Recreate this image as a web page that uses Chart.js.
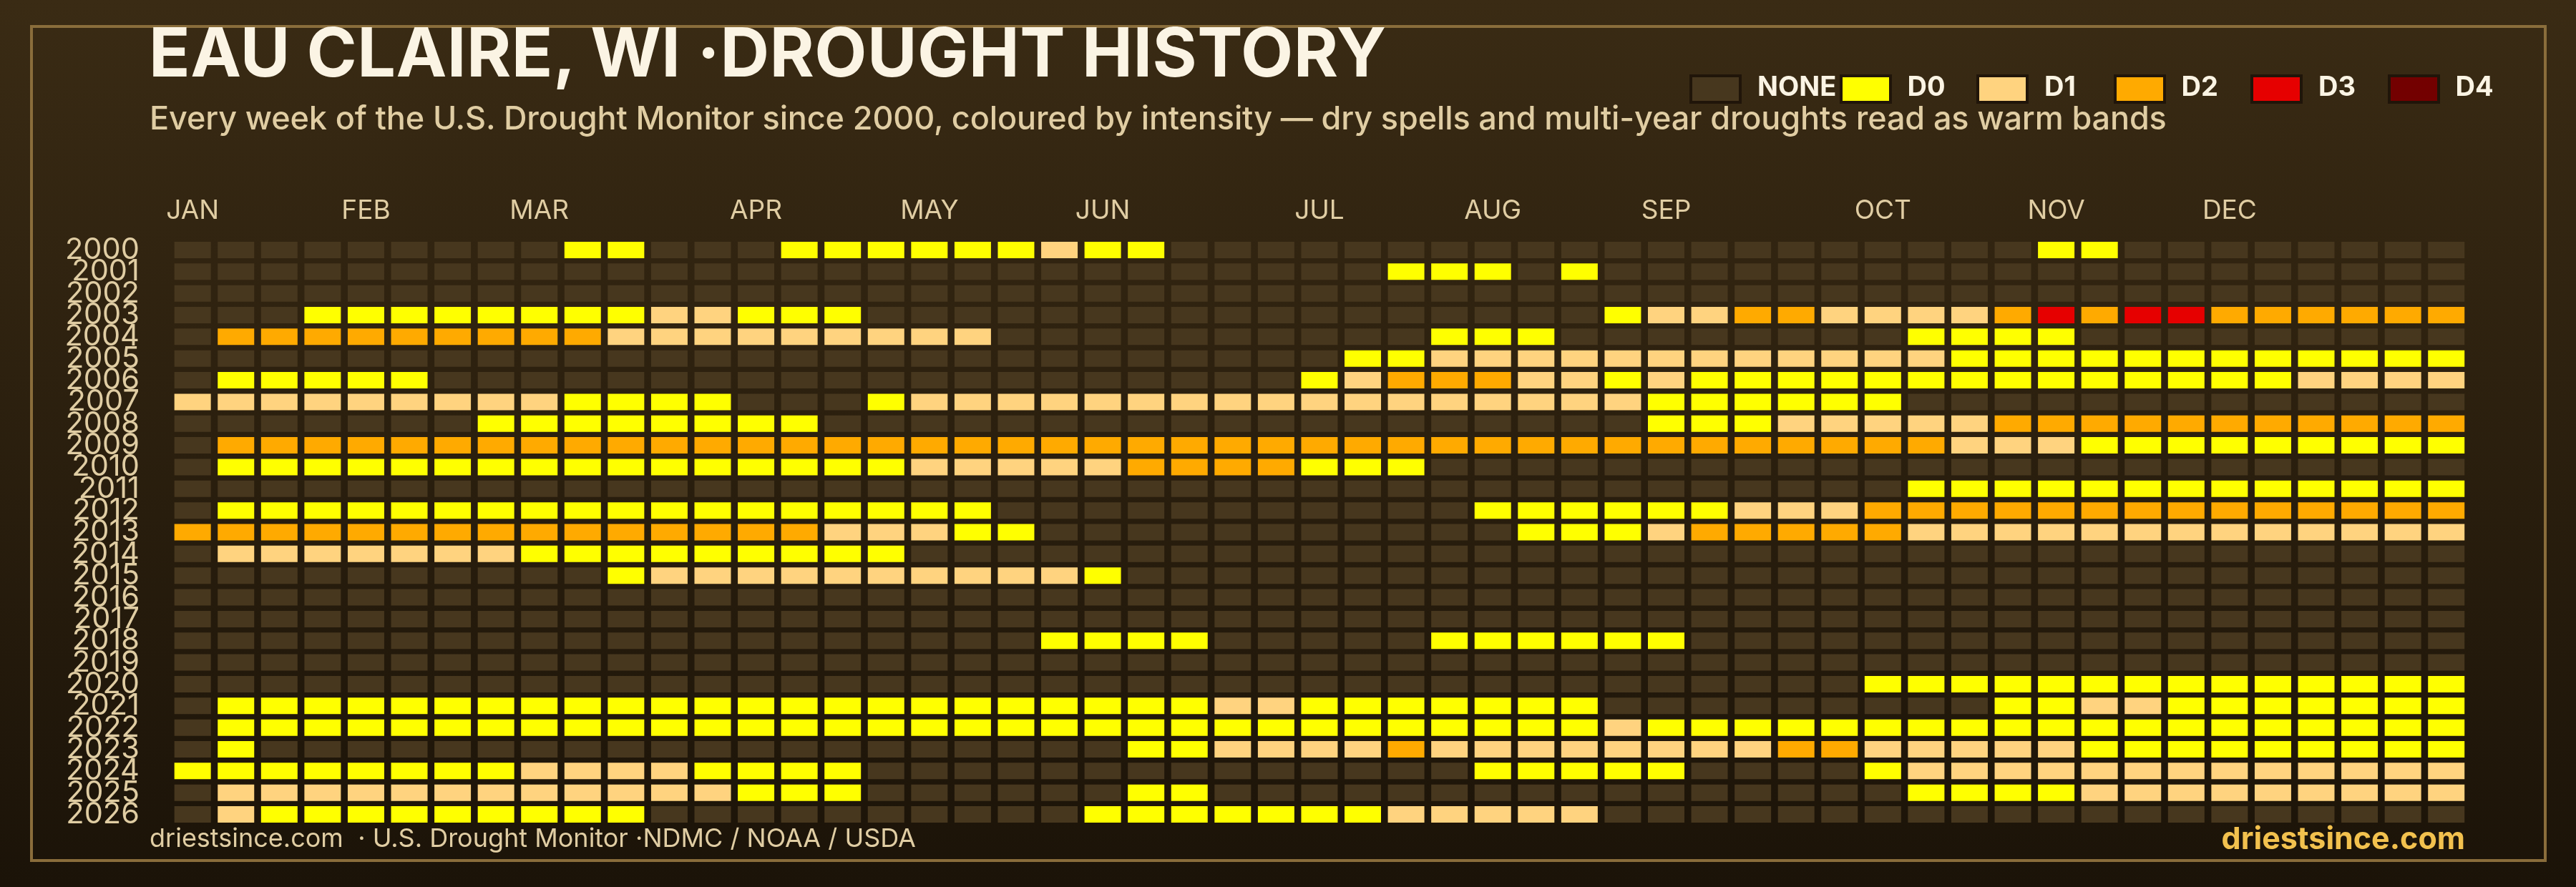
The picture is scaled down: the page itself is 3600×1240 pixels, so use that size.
<!DOCTYPE html>
<html>
<head>
<meta charset="utf-8">
<title>Eau Claire, WI drought history</title>
<script src="https://cdn.jsdelivr.net/npm/chart.js@4"></script>
<style>
    html, body { margin: 0; padding: 0; }
    body {
        width: 3600px; height: 1240px; position: relative; overflow: hidden;
        background: linear-gradient(180deg, #3a2b14 0%, #1b1308 100%);
        font-family: Inter, sans-serif;
    }
    #chart-wrap { position: absolute; left: 0; top: 0; width: 3600px; height: 1240px; }
    #frame { position: absolute; left: 42px; top: 35px; width: 3509px; height: 1162px; border: 4px solid #8a6d3b; }
    .txt { position: absolute; white-space: pre; }
    #title { left: 208px; top: 14px; font-size: 95px; line-height: 118px; font-weight: 700; color: #fbf4e4; letter-spacing: 0.45px; }
    #subtitle { left: 209px; top: 137px; font-size: 45px; line-height: 56px; font-weight: 500; color: #e0cda3; letter-spacing: -0.13px; }
    #source { left: 209px; top: 1148px; font-size: 36px; line-height: 46px; color: #e0cda3; }
    #brand { right: 155px; top: 1144px; font-size: 43px; line-height: 54px; font-weight: 700; color: #f2c14e; }
    .swatch { position: absolute; top: 104px; width: 65px; height: 33px; border: 4px solid #201509; }
    .legend-label { position: absolute; top: 96px; font-size: 38px; line-height: 48px; font-weight: 700; color: #fbf4e4; }
</style>
</head>
<body>
<div id="chart-wrap"><canvas id="heatmap" width="3600" height="1240"></canvas></div>
<div id="frame"></div>
<div class="txt" id="title">EAU CLAIRE, WI ·DROUGHT HISTORY</div>
<div class="txt" id="subtitle">Every week of the U.S. Drought Monitor since 2000, coloured by intensity — dry spells and multi-year droughts read as warm bands</div>
<div class="txt" id="source">driestsince.com  · U.S. Drought Monitor ·NDMC / NOAA / USDA</div>
<div class="txt" id="brand">driestsince.com</div>
<div id="legend"></div>

<script>
const YEARS = [2000, 2001, 2002, 2003, 2004, 2005, 2006, 2007, 2008, 2009, 2010, 2011, 2012, 2013,
    2014, 2015, 2016, 2017, 2018, 2019, 2020, 2021, 2022, 2023, 2024, 2025, 2026];
const MONTHS = ['JAN', 'FEB', 'MAR', 'APR', 'MAY', 'JUN', 'JUL', 'AUG', 'SEP', 'OCT', 'NOV', 'DEC'];
const MONTH_START_WEEK = [0, 4, 8, 13, 17, 21, 26, 30, 34, 39, 43, 47];
const LEVEL_NAMES = ['NONE', 'D0', 'D1', 'D2', 'D3', 'D4'];

// one string per year, 53 weeks, grouped in tens. digit = index in LEVEL_NAMES
const WEEK_LEVELS = [
    '0000000001 1000111111 2110000000 0000000000 0001100000 000', // 2000
    '0000000000 0000000000 0000000011 1010000000 0000000000 000', // 2001
    '0000000000 0000000000 0000000000 0000000000 0000000000 000', // 2002
    '0001111111 1221110000 0000000000 0001223322 2234344333 333', // 2003
    '0333333333 2222222220 0000000001 1100000000 1111000000 000', // 2004
    '0000000000 0000000000 0000000112 2222222222 2111111111 111', // 2005
    '0111110000 0000000000 0000001233 3221211111 1111111112 222', // 2006
    '2222222221 1110001222 2222222222 2222111111 0000000000 000', // 2007
    '0000000111 1111100000 0000000000 0000111222 2233333333 333', // 2008
    '0333333333 3333333333 3333333333 3333333333 3222111111 111', // 2009
    '0111111111 1111111222 2233331110 0000000000 0000000000 000', // 2010
    '0000000000 0000000000 0000000000 0000000000 1111111111 111', // 2011
    '0111111111 1111111110 0000000000 1111112223 3333333333 333', // 2012
    '3333333333 3333322211 0000000000 0111233333 2222222222 222', // 2013
    '0222222211 1111111000 0000000000 0000000000 0000000000 000', // 2014
    '0000000000 1222222222 2100000000 0000000000 0000000000 000', // 2015
    '0000000000 0000000000 0000000000 0000000000 0000000000 000', // 2016
    '0000000000 0000000000 0000000000 0000000000 0000000000 000', // 2017
    '0000000000 0000000000 1111000001 1111100000 0000000000 000', // 2018
    '0000000000 0000000000 0000000000 0000000000 0000000000 000', // 2019
    '0000000000 0000000000 0000000000 0000000001 1111111111 111', // 2020
    '0111111111 1111111111 1111221111 1110000000 0011221111 111', // 2021
    '0111111111 1111111111 1111111111 1112111111 1111111111 111', // 2022
    '0100000000 0000000000 0011222232 2222222332 2222111111 111', // 2023
    '1111111122 2211110000 0000000000 1111100001 2222222222 222', // 2024
    '0222222222 2221110000 0011000000 0000000000 1111222222 222', // 2025
    '0211111111 1000000000 0111111122 2220000000 0000000000 000'  // 2026
];

const LEVEL_COLORS = ['#47371e', '#ffff00', '#ffd37f', '#ffaa00', '#e60000', '#730000'];
const CREAM = '#e0cda3';

document.addEventListener('DOMContentLoaded', function() {
    // Legend swatches first, labels after so NONE sits on top of the D0 swatch
    const legend = document.getElementById('legend');
    const legendX = function(i) { return 191.5 * i + (i > 0 ? 18 : 0); };
    LEVEL_NAMES.forEach(function(name, i) {
        const swatch = document.createElement('div');
        swatch.className = 'swatch';
        swatch.style.left = (2361 + legendX(i)) + 'px';
        swatch.style.background = LEVEL_COLORS[i];
        legend.appendChild(swatch);
    });
    LEVEL_NAMES.forEach(function(name, i) {
        const label = document.createElement('div');
        label.className = 'legend-label';
        label.style.left = (2456 + legendX(i)) + 'px';
        label.textContent = name;
        legend.appendChild(label);
    });

    // Unique week ids for the category axis, month text only where the month starts
    const weekIds = [];
    for (let w = 0; w < 53; w++) weekIds.push('w' + w);

    // One floating-bar dataset per drought level
    const datasets = LEVEL_NAMES.map(function(name, level) {
        const cells = [];
        WEEK_LEVELS.forEach(function(row, y) {
            const weeks = row.replace(/ /g, '');
            for (let w = 0; w < weeks.length; w++) {
                if (Number(weeks[w]) === level) {
                    cells.push({ x: weekIds[w], y: [y - 0.379, y + 0.379] });
                }
            }
        });
        return {
            label: name,
            data: cells,
            backgroundColor: LEVEL_COLORS[level],
            barPercentage: 51 / 60.57,
            categoryPercentage: 1,
            grouped: false
        };
    });

    const ctx = document.getElementById('heatmap').getContext('2d');
    new Chart(ctx, {
        type: 'bar',
        data: { labels: weekIds, datasets: datasets },
        options: {
            responsive: false,
            animation: false,
            devicePixelRatio: 1,
            layout: { padding: { left: 0, top: 0, right: 151, bottom: 86.3 } },
            scales: {
                x: {
                    type: 'category',
                    position: 'top',
                    grid: { display: false, drawTicks: false },
                    border: { display: false },
                    ticks: {
                        autoSkip: false, maxRotation: 0, minRotation: 0, padding: 17,
                        color: CREAM,
                        font: { family: 'Inter', size: 37 },
                        callback: function(value, index) {
                            const m = MONTH_START_WEEK.indexOf(index);
                            return m >= 0 ? MONTHS[m] : '';
                        }
                    },
                    afterFit: function(scale) { scale.height = 334.3; }
                },
                y: {
                    type: 'linear',
                    reverse: true,
                    min: -0.5,
                    max: 26.5,
                    grid: { display: false, drawTicks: false },
                    border: { display: false },
                    afterBuildTicks: function(scale) {
                        scale.ticks = YEARS.map(function(year, i) { return { value: i }; });
                    },
                    ticks: {
                        autoSkip: false, padding: 44,
                        color: CREAM,
                        font: { family: 'Inter', size: 41.5 },
                        callback: function(value) { return String(YEARS[value]); }
                    },
                    afterFit: function(scale) { scale.width = 238.9; }
                }
            },
            plugins: { legend: { display: false }, tooltip: { enabled: false } }
        }
    });
});
</script>
</body>
</html>
